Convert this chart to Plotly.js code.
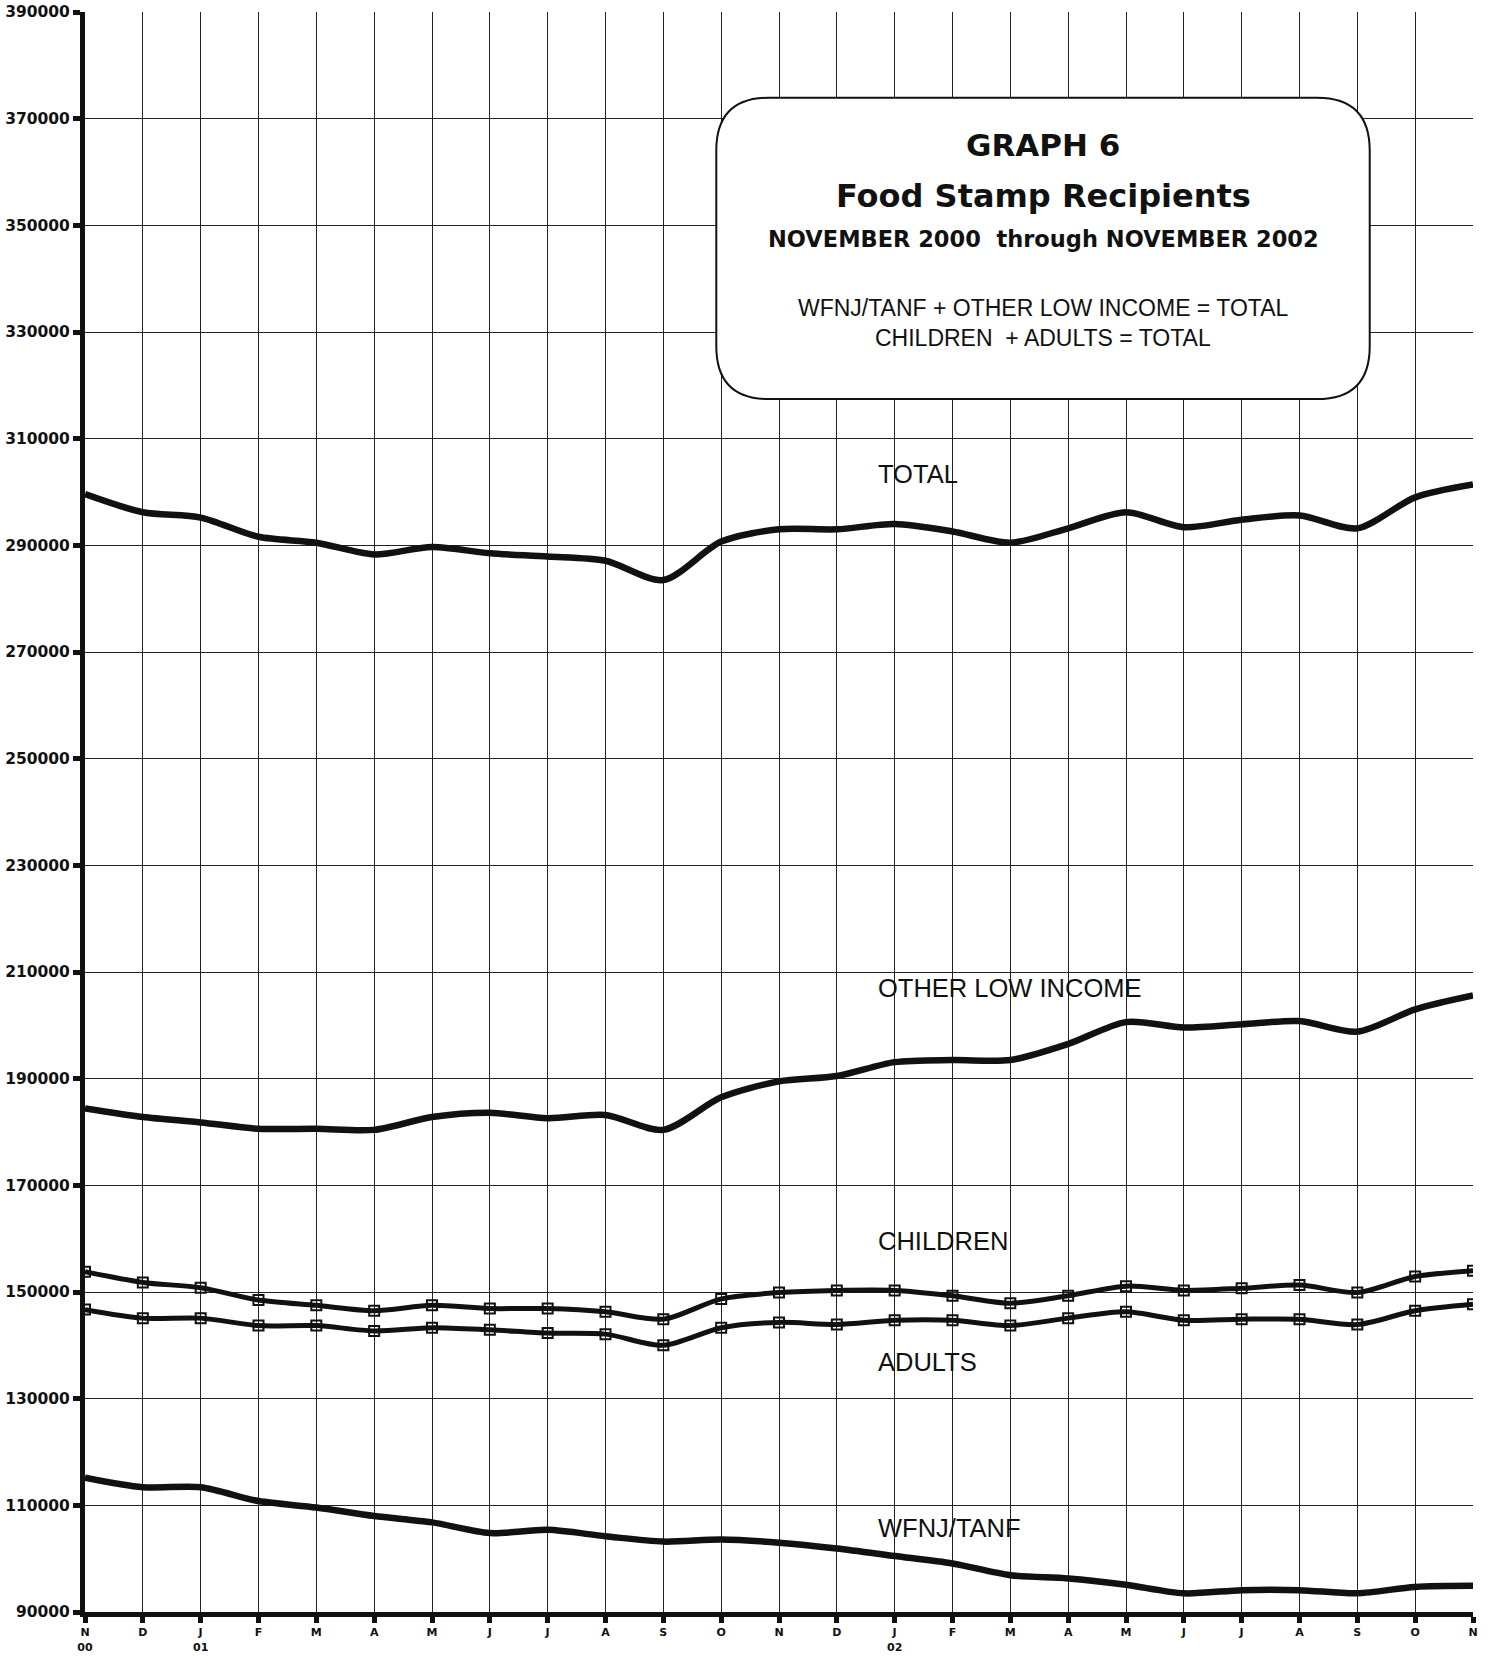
<!DOCTYPE html>
<html>
<head>
<meta charset="utf-8">
<script src="https://cdn.plot.ly/plotly-3.0.1.min.js"></script>
<style>html,body{margin:0;padding:0;background:#fff;}#chart{width:1491px;height:1656px;}</style>
</head>
<body>
<div id="chart"></div>
<script>
// Month tick labels (Nov 2000 .. Nov 2002)
const monthLetters = ['N','D','J','F','M','A','M','J','J','A','S','O','N','D','J','F','M','A','M','J','J','A','S','O','N'];
const yearLabels   = ['00','','01','','','','','','','','','','','','02','','','','','','','','','',''];

const total     = [299600,296200,295200,291600,290500,288300,289700,288500,287900,287100,283500,290700,293000,293000,294000,292600,290500,293200,296200,293400,294800,295600,293200,299000,301400];
const otherLow  = [184400,182800,181800,180600,180600,180400,182800,183600,182600,183200,180400,186500,189500,190500,193100,193500,193500,196500,200600,199600,200200,200800,198800,203000,205600];
const children  = [153800,151800,150800,148500,147500,146500,147500,146900,146900,146300,144900,148700,149900,150300,150300,149300,147900,149300,151100,150300,150700,151300,149900,152900,154000];
const adults    = [146700,145100,145100,143700,143700,142700,143300,142900,142300,142100,140000,143300,144300,143900,144700,144700,143700,145100,146300,144700,144900,144900,143900,146500,147700];
const wfnjTanf  = [115200,113400,113400,110800,109600,108000,106800,104800,105400,104200,103200,103600,103000,101900,100500,99100,96900,96300,95100,93500,94100,94100,93500,94700,94900];

const xIdx = monthLetters.map((_, i) => i);
const tickText = monthLetters.map((m, i) => yearLabels[i] ? m + '<br>' + yearLabels[i] : m);

function lineTrace(y, name) {
  return {x: xIdx, y: y, name: name, type: 'scatter', mode: 'lines',
          line: {color: '#111', width: 6.5, shape: 'spline', smoothing: 0.8},
          hoverinfo: 'skip'};
}
function markerTrace(y, name) {
  return {x: xIdx, y: y, name: name, type: 'scatter', mode: 'lines+markers',
          line: {color: '#111', width: 5, shape: 'spline', smoothing: 0.8},
          marker: {symbol: 'square-open', size: 10, color: '#111', line: {color: '#111', width: 2}},
          hoverinfo: 'skip'};
}

const data = [
  lineTrace(total, 'TOTAL'),
  lineTrace(otherLow, 'OTHER LOW INCOME'),
  markerTrace(children, 'CHILDREN'),
  markerTrace(adults, 'ADULTS'),
  lineTrace(wfnjTanf, 'WFNJ/TANF')
];

// Rounded title box, in paper fractions (measured against the plot frame)
const L = 80, R = 1397, T = 12, B = 1525;
const px = v => (v - L) / (R - L);
const py = v => (B - v) / (B - T);
const bx0 = px(679), bx1 = px(1299), by0 = py(93), by1 = py(378);
const rx = 50 / (R - L), ry = 50 / (B - T);
const boxPath = `M ${bx0 + rx} ${by0} L ${bx1 - rx} ${by0} Q ${bx1} ${by0} ${bx1} ${by0 - ry} ` +
  `L ${bx1} ${by1 + ry} Q ${bx1} ${by1} ${bx1 - rx} ${by1} L ${bx0 + rx} ${by1} ` +
  `Q ${bx0} ${by1} ${bx0} ${by1 + ry} L ${bx0} ${by0 - ry} Q ${bx0} ${by0} ${bx0 + rx} ${by0} Z`;

const heavyFont = 'DejaVu Sans, Liberation Sans, Arial, sans-serif';
const plainFont = 'Liberation Sans Narrow, Arial Narrow, Liberation Sans, Arial, sans-serif';
const cx = (px(679) + px(1299)) / 2;

function boxText(text, yPix, size, family) {
  return {xref: 'paper', yref: 'paper', x: cx, y: py(yPix), xanchor: 'center', yanchor: 'middle',
          text: text, showarrow: false, font: {family: family, size: size, color: '#111'}};
}
function seriesLabel(text, yPix) {
  return {xref: 'paper', yref: 'paper', x: px(831), y: py(yPix), xanchor: 'left', yanchor: 'middle',
          text: text, showarrow: false, font: {family: plainFont, size: 25.5, color: '#111'}};
}

const layout = {
  width: 1491, height: 1656,
  margin: {l: 85, r: 18, t: 12, b: 44, pad: 0},
  paper_bgcolor: '#fff', plot_bgcolor: '#fff',
  showlegend: false,
  xaxis: {
    range: [0, 24], tickvals: xIdx, ticktext: tickText,
    showgrid: true, gridcolor: '#222', gridwidth: 1,
    showline: true, linecolor: '#111', linewidth: 5,
    ticks: 'outside', ticklen: 6, tickwidth: 5, tickcolor: '#111',
    ticklabelstandoff: 0,
    tickfont: {family: heavyFont, size: 11, color: '#111', weight: 'bold'},
    zeroline: false, fixedrange: true
  },
  yaxis: {
    range: [90000, 390000], dtick: 20000, tick0: 90000, tickformat: 'd',
    showgrid: true, gridcolor: '#222', gridwidth: 1,
    showline: true, linecolor: '#111', linewidth: 5,
    ticks: 'outside', ticklen: 7, tickwidth: 5, tickcolor: '#111',
    ticklabelstandoff: 0,
    tickfont: {family: heavyFont, size: 15.5, color: '#111', weight: 'bold'},
    zeroline: false, fixedrange: true
  },
  shapes: [{type: 'path', xref: 'paper', yref: 'paper', path: boxPath,
            fillcolor: '#fff', line: {color: '#111', width: 2}, layer: 'above'}],
  annotations: [
    boxText('<b>GRAPH 6</b>', 138, 31, heavyFont),
    boxText('<b>Food Stamp Recipients</b>', 186, 32, heavyFont),
    boxText('<b>NOVEMBER 2000  through NOVEMBER 2002</b>', 227, 22.5, heavyFont),
    boxText('WFNJ/TANF + OTHER LOW INCOME = TOTAL', 292, 23, plainFont),
    boxText('CHILDREN  + ADULTS = TOTAL', 320, 23, plainFont),
    seriesLabel('TOTAL', 449),
    seriesLabel('OTHER LOW INCOME', 935),
    seriesLabel('CHILDREN', 1174),
    seriesLabel('ADULTS', 1289),
    seriesLabel('WFNJ/TANF', 1446)
  ]
};

Plotly.newPlot('chart', data, layout, {displayModeBar: false, staticPlot: true});
</script>
</body>
</html>
